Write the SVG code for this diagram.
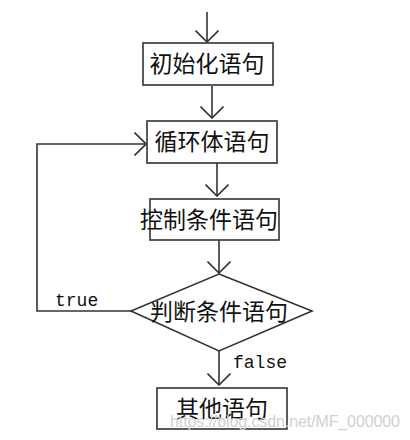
<svg xmlns="http://www.w3.org/2000/svg" width="410" height="440" viewBox="0 0 410 440">
<style>
.box{fill:#fff;stroke:#333;stroke-width:1.6}
.ln{fill:none;stroke:#333;stroke-width:1.6}
.cn{font-family:"Noto Sans CJK SC","Noto Sans CJK JP",sans-serif;font-size:23px;fill:#111;text-anchor:middle}
.lb{font-family:"Liberation Mono","DejaVu Sans Mono",monospace;font-size:18px;fill:#111}
.wm{font-family:"Liberation Sans",Arial,sans-serif;font-size:16px;fill:#d0d0d0}
</style>
<defs>
<marker id="ah" viewBox="0 0 13 24" refX="12" refY="12" markerWidth="13" markerHeight="24" markerUnits="userSpaceOnUse" orient="auto">
<path d="M0.5,0.5 L12,12 L0.5,23.5" fill="none" stroke="#333" stroke-width="1.6"/>
</marker>
</defs>
<rect width="410" height="440" fill="#fff"/>
<g id="connectors">
<line class="ln" x1="207" y1="12" x2="207" y2="42" marker-end="url(#ah)"/>
<line class="ln" x1="212" y1="86" x2="212" y2="118" marker-end="url(#ah)"/>
<line class="ln" x1="217" y1="163" x2="217" y2="196" marker-end="url(#ah)"/>
<line class="ln" x1="219" y1="240" x2="219" y2="273" marker-end="url(#ah)"/>
<polyline class="ln" points="131,311 37,311 37,144 146,144" marker-end="url(#ah)"/>
<line class="ln" x1="219" y1="351" x2="219" y2="385" marker-end="url(#ah)"/>
<text class="lb" x="55" y="306">true</text>
<text class="lb" x="233" y="368">false</text>
</g>
<g id="init">
<rect class="box" x="143" y="43" width="130" height="42"/>
<text class="cn" x="207" y="72">初始化语句</text>
</g>
<g id="body">
<rect class="box" x="147" y="121" width="130" height="42"/>
<text class="cn" x="212" y="150">循环体语句</text>
</g>
<g id="control">
<rect class="box" x="150" y="199" width="129" height="41"/>
<text class="cn" x="209" y="228">控制条件语句</text>
</g>
<g id="judge">
<polygon class="box" points="219,274 312,311 219,351 131,311"/>
<text class="cn" x="219" y="320">判断条件语句</text>
</g>
<g id="other">
<rect class="box" x="157" y="388" width="130" height="41"/>
<text class="cn" x="222" y="417">其他语句</text>
</g>
<text class="wm" x="170" y="427" textLength="230">https://blog.csdn.net/MF_000000</text>
</svg>
